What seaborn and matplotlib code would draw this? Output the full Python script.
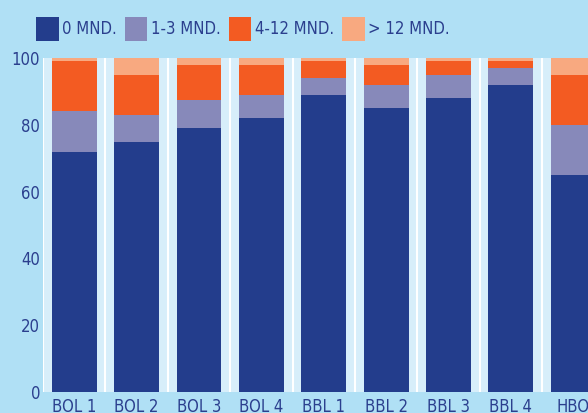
import matplotlib
matplotlib.use("Agg")
import matplotlib.pyplot as plt
from matplotlib import font_manager
from matplotlib.patches import Patch
import seaborn as sns
import numpy as np

# Duration categories per education level (percent of group)
categories = ["BOL 1", "BOL 2", "BOL 3", "BOL 4", "BBL 1", "BBL 2", "BBL 3", "BBL 4", "HBO"]
series_names = ["0 MND.", "1-3 MND.", "4-12 MND.", "> 12 MND."]
mnd_0 = [72, 75, 79, 82, 89, 85, 88, 92, 65]
mnd_1_3 = [12, 8, 8.5, 7, 5, 7, 7, 5, 15]
mnd_4_12 = [15, 12, 10.5, 9, 5, 6, 4, 2, 15]
mnd_12_plus = [1, 5, 2, 2, 1, 2, 1, 1, 5]
y_ticks = [0, 20, 40, 60, 80, 100]

colors = ["#233d8c", "#8789ba", "#f35b22", "#f8a980"]
text_color = "#2b3f8e"
fig_bg = "#b0e0f5"
ax_bg = "#d7eefa"

sns.set_theme(style="white")
available = {f.name for f in font_manager.fontManager.ttflist}
if "Liberation Sans Narrow" in available:
    plt.rcParams["font.family"] = ["Liberation Sans Narrow", "DejaVu Sans"]
    fs = 14
else:
    plt.rcParams["font.family"] = ["DejaVu Sans"]
    plt.rcParams["font.stretch"] = "condensed"
    fs = 12

fig = plt.figure(figsize=(5.88, 4.13), dpi=100, facecolor=fig_bg)
ax = fig.add_axes([43 / 588, 21 / 413, 1 - 43 / 588, (392 - 58) / 413])
ax.set_facecolor(ax_bg)

# Stacked bars: draw cumulative totals from the top layer down
layers = [mnd_0, mnd_1_3, mnd_4_12, mnd_12_plus]
cum = np.cumsum(np.array(layers, dtype=float), axis=0)
for k in range(len(layers) - 1, -1, -1):
    sns.barplot(x=categories, y=cum[k], color=colors[k], saturation=1,
                width=0.72, ax=ax, zorder=2, linewidth=0)

# White separators between categories
for i in range(len(categories)):
    ax.axvline(i - 0.5, color="white", lw=1.5, zorder=1)

ax.set_xlim(-0.5, 8.236)
ax.set_ylim(0, 100)
ax.set_yticks(y_ticks)
ax.tick_params(axis="both", length=0, labelcolor=text_color, labelsize=fs)
ax.tick_params(axis="y", pad=2)
ax.tick_params(axis="x", pad=4)
for s in ax.spines.values():
    s.set_visible(False)
ax.set_xlabel("")
ax.set_ylabel("")

handles = [Patch(facecolor=c, edgecolor="none") for c in colors]
fig.legend(handles, series_names, loc="upper left", bbox_to_anchor=(36 / 588, 1 - 17 / 413),
           ncol=4, frameon=False, fontsize=fs, labelcolor=text_color,
           handlelength=1.35, handleheight=1.85, handletextpad=0.2, columnspacing=0.5,
           borderaxespad=0, borderpad=0)

fig.savefig("out.png", dpi=100, facecolor=fig_bg)
